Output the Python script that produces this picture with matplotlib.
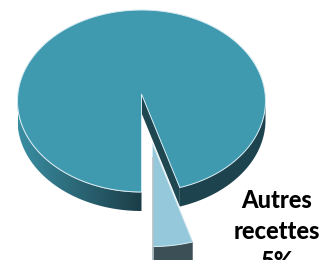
import numpy as np
import matplotlib.pyplot as plt
from matplotlib.patches import Polygon
from matplotlib.colors import LinearSegmentedColormap

labels = ['Recettes principales', 'Autres recettes']
values = [95, 5]
top_colors = ['#3f9ab0', '#95c8da']
side_colors = ['#1d434e', '#3d4f56']

W, H = 327, 260
fig = plt.figure(figsize=(W / 100, H / 100), dpi=100)
ax = fig.add_axes([0, 0, 1, 1])
ax.set_xlim(0, W)
ax.set_ylim(H, 0)
ax.axis('off')

# ellipse geometry (pixels), angles measured from straight down, going right
cx, cy, rx, ry = 141.5, 101, 124, 91
depth = 19
apex_dy = -7
explode = {1: (11, 50, 1.05)}   # dx, dy, scale (closer = bigger)

fracs = np.array(values, float) / sum(values)
# small slice starts at the bottom, big one takes the rest
starts = [fracs[1] * 360, 0]
ends = [360, fracs[1] * 360]


def rim(th, dx=0, dy=0, down=0, s=1.0):
    t = np.radians(th)
    ax0 = cx + dx
    ay0 = cy + dy + apex_dy * s
    return np.column_stack([ax0 + s * rx * np.sin(t),
                            ay0 + s * (-apex_dy + down + ry * np.cos(t))])


def apex(dx=0, dy=0, down=0, s=1.0):
    return np.array([[cx + dx, cy + dy + s * (apex_dy + down)]])


def side_poly(a0, a1, dx=0, dy=0, s=1.0):
    th = np.linspace(a0, a1, 80)
    return np.vstack([rim(th, dx, dy, s=s), rim(th[::-1], dx, dy, depth, s)])


def grad_fill(poly, c0, c1, x0, x1):
    p = Polygon(poly, closed=True, facecolor='none', edgecolor='none')
    ax.add_patch(p)
    cmap = LinearSegmentedColormap.from_list('g', [c0, c1])
    g = np.linspace(0, 1, 256).reshape(1, -1)
    im = ax.imshow(g, cmap=cmap, extent=[x0, x1, H, 0], aspect='auto', zorder=1)
    im.set_clip_path(p)


for i in [0, 1]:
    dx, dy, s = explode.get(i, (0, 0, 1.0))
    a0, a1 = starts[i], ends[i]
    z = 2 + i * 3
    # front side of the slice
    if i == 0:
        grad_fill(side_poly(270, 360), '#3a8ea3', '#1b3d47', cx - rx, cx)
        ax.add_patch(Polygon(side_poly(a0, 90), closed=True, facecolor=side_colors[0],
                             edgecolor='none', zorder=z))
        # cut face facing the gap
        face = np.vstack([apex(), rim([a0]), rim([a0], down=depth), apex(down=depth)])
        ax.add_patch(Polygon(face, closed=True, facecolor='#1e4752', edgecolor='none', zorder=z))
        ax.plot(*side_poly(270, 360)[:80].T, color='#c9c9c9', lw=0.6, zorder=z)
    else:
        ax.add_patch(Polygon(side_poly(a0, a1, dx, dy, s), closed=True, facecolor=side_colors[1],
                             edgecolor='none', zorder=z))
        ax.plot([cx + dx] * 2, [cy + dy + apex_dy + 14, rim([0], dx, dy, depth, s)[0, 1]],
                color='#b8c4c8', lw=1.2, zorder=z + 2)
    th = np.linspace(a0, a1, 200)
    top = np.vstack([apex(dx, dy, s=s), rim(th, dx, dy, s=s)])
    ax.add_patch(Polygon(top, closed=True, facecolor=top_colors[i],
                         edgecolor='#d5eaf1', lw=0.7, zorder=z + 1))

ax.text(277, 189, f'{labels[1].replace(" ", chr(10))}\n{values[1]}%', ha='center', va='top',
        fontsize=17, fontweight='black', family='Lato', color='black', linespacing=1.4, zorder=10)

fig.savefig('out.png', dpi=100)
